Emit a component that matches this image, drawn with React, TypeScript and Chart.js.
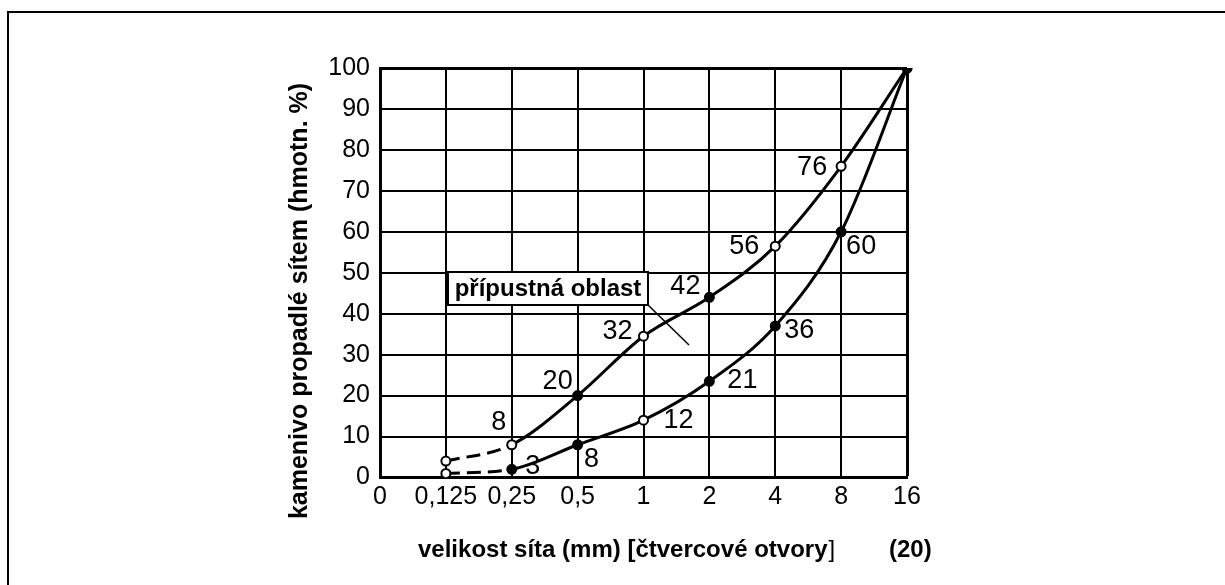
import React, { useEffect, useRef } from "react";
import { Chart, registerables } from "chart.js";

Chart.register(...registerables);

// ---- data ----
const sieveSizes = ["0", "0,125", "0,25", "0,5", "1", "2", "4", "8", "16"];
const upperCurve = [null, 4, 8, 20, 34.5, 44, 56.5, 76, 100];
const lowerCurve = [null, 1, 2, 8, 14, 23.5, 37, 60, 100];
const upperLabels = [null, null, "8", "20", "32", "42", "56", "76", null];
const lowerLabels = [null, null, "3", "8", "12", "21", "36", "60", null];
const yMin = 0;
const yMax = 100;
const yStep = 10;
const yTitle = "kamenivo propadlé sítem (hmotn. %)";
const xTitleBold = "velikost síta (mm) [čtvercové otvory";
const xTitleEnd = "]";
const figureNo = "(20)";
const areaLabel = "přípustná oblast";

// ---- styling (not data) ----
const upperLabelOffsets = [null, null, [-13, -22], [-20, -14], [-26, -5], [-24, -11], [-31, 0], [-29, 1], null];
const lowerLabelOffsets = [null, null, [21, -3], [14, 15], [35, 0], [33, -1], [24, 5], [20, 15], null];
const upperFill = ["#fff", "#fff", "#fff", "#000", "#fff", "#000", "#fff", "#fff", "#000"];
const lowerFill = ["#fff", "#fff", "#000", "#000", "#fff", "#000", "#000", "#000", "#000"];
const FONT = "'Liberation Sans', Arial, Helvetica, sans-serif";

const decorPlugin = {
  id: "decor",
  afterDatasetsDraw(chart: any) {
    const ctx = chart.ctx;
    ctx.save();
    // point labels
    ctx.fillStyle = "#000";
    ctx.font = `27px ${FONT}`;
    ctx.textAlign = "center";
    ctx.textBaseline = "middle";
    const draw = (dsIndex: number, labels: any[], offs: any[]) => {
      const meta = chart.getDatasetMeta(dsIndex);
      labels.forEach((lab, i) => {
        if (!lab || !offs[i]) return;
        const p = meta.data[i];
        ctx.fillText(lab, p.x + offs[i][0], p.y + offs[i][1]);
      });
    };
    draw(0, upperLabels, upperLabelOffsets);
    draw(1, lowerLabels, lowerLabelOffsets);

    // area label box
    const bx = 448, by = 272, bw = 200, bh = 33;
    ctx.fillStyle = "#fff";
    ctx.fillRect(bx, by, bw, bh);
    ctx.strokeStyle = "#000";
    ctx.lineWidth = 2;
    ctx.strokeRect(bx, by, bw, bh);
    ctx.fillStyle = "#000";
    ctx.font = `bold 24px ${FONT}`;
    ctx.fillText(areaLabel, bx + bw / 2, by + bh / 2 + 1);
    // leader line
    ctx.lineWidth = 1.5;
    ctx.beginPath();
    ctx.moveTo(bx + bw, by + bh);
    ctx.lineTo(689, 345);
    ctx.stroke();
    ctx.restore();
  },
  afterDraw(chart: any) {
    const ctx = chart.ctx;
    ctx.save();
    ctx.fillStyle = "#000";
    // y title
    ctx.translate(300, 301);
    ctx.rotate(-Math.PI / 2);
    ctx.font = `bold 25px ${FONT}`;
    ctx.textAlign = "center";
    ctx.textBaseline = "middle";
    ctx.fillText(yTitle, 0, 0);
    ctx.setTransform(1, 0, 0, 1, 0, 0);
    // x title
    ctx.textAlign = "left";
    ctx.textBaseline = "alphabetic";
    ctx.font = `bold 24px ${FONT}`;
    ctx.fillText(xTitleBold, 418, 557);
    const w = ctx.measureText(xTitleBold).width;
    ctx.font = `24px ${FONT}`;
    ctx.fillText(xTitleEnd, 418 + w + 1, 557);
    ctx.font = `bold 24px ${FONT}`;
    ctx.fillText(figureNo, 889, 557);
    // frame
    ctx.strokeStyle = "#000";
    ctx.lineWidth = 2;
    ctx.strokeRect(8, 12, 1400, 800);
    ctx.restore();
  },
};

export default function App() {
  const ref = useRef<HTMLCanvasElement>(null);
  useEffect(() => {
    if (!ref.current) return;
    const chart = new Chart(ref.current, {
      type: "line",
      data: {
        labels: sieveSizes,
        datasets: [
          {
            data: upperCurve as any,
            borderColor: "#000",
            borderWidth: 3,
            pointRadius: 4.5,
            pointBorderWidth: 2,
            pointBorderColor: "#000",
            pointBackgroundColor: upperFill,
            cubicInterpolationMode: "monotone",
            segment: { borderDash: (c: any) => (c.p0DataIndex === 1 ? [14, 7] : undefined) },
          },
          {
            data: lowerCurve as any,
            borderColor: "#000",
            borderWidth: 3,
            pointRadius: 4.5,
            pointBorderWidth: 2,
            pointBorderColor: "#000",
            pointBackgroundColor: lowerFill,
            cubicInterpolationMode: "monotone",
            segment: { borderDash: (c: any) => (c.p0DataIndex === 1 ? [14, 7] : undefined) },
          },
        ],
      },
      options: {
        animation: false,
        responsive: false,
        devicePixelRatio: 1,
        layout: { padding: { top: 68, right: 318, left: 0, bottom: 0 } },
        plugins: { legend: { display: false }, tooltip: { enabled: false }, title: { display: false } },
        scales: {
          x: {
            type: "category",
            offset: false,
            grid: {
              offset: false,
              color: "#000",
              lineWidth: (c: any) => (c.index === sieveSizes.length - 1 ? 3 : 2),
              drawTicks: false,
            },
            border: { display: true, color: "#000", width: 3 },
            ticks: {
              autoSkip: false,
              maxRotation: 0,
              color: "#000",
              padding: 5,
              font: { family: FONT, size: 25 },
            },
            afterFit: (s: any) => {
              s.height = 107.5;
            },
          },
          y: {
            min: yMin,
            max: yMax,
            grid: {
              color: "#000",
              lineWidth: (c: any) => (c.tick && c.tick.value === yMax ? 3 : 2),
              drawTicks: false,
            },
            border: { display: true, color: "#000", width: 3 },
            ticks: {
              stepSize: yStep,
              color: "#000",
              padding: 10,
              font: { family: FONT, size: 25 },
            },
            afterFit: (s: any) => {
              s.width = 380;
            },
          },
        },
      },
      plugins: [decorPlugin],
    });
    return () => chart.destroy();
  }, []);
  return (
    <div style={{ position: "fixed", left: 0, top: 0, width: 1225, height: 585, background: "#fff" }}>
      <canvas ref={ref} width={1225} height={585} style={{ display: "block" }} />
    </div>
  );
}
